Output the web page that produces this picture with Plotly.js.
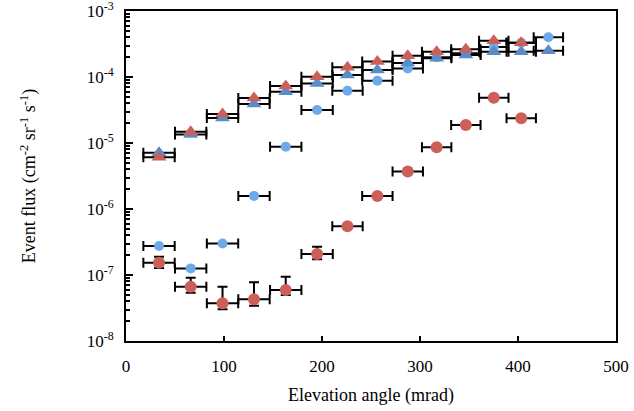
<!DOCTYPE html>
<html>
<head>
<meta charset="utf-8">
<script src="https://cdn.plot.ly/plotly-3.0.1.min.js"></script>
<style>html,body{margin:0;padding:0;background:#fff;}#chart{width:634px;height:411px;}</style>
</head>
<body>
<div id="chart"></div>
<script>
// Elevation angle bins (mrad)
const angles = [33.7, 66, 98.5, 130.6, 163, 195, 226, 256.5, 287.5, 317, 346.8, 375.3, 403.3, 431];
const angleErr = [16, 16, 16, 16, 16, 16, 15.5, 15.5, 15.5, 15, 15, 15, 15, 15];

// Blue triangles
const blueTri = [7.1e-6, 1.35e-5, 2.4e-5, 3.9e-5, 6.0e-5, 8.0e-5, 1.07e-4, 1.28e-4, 1.63e-4, 1.92e-4, 2.15e-4, 2.42e-4, 2.42e-4, 2.5e-4];
// Red triangles
const redTri = [6.1e-6, 1.48e-5, 2.75e-5, 4.8e-5, 7.3e-5, 1.01e-4, 1.40e-4, 1.71e-4, 2.1e-4, 2.42e-4, 2.63e-4, 3.55e-4, 3.3e-4];
// Blue circles
const blueCirc = [2.75e-7, 1.26e-7, 3.0e-7, 1.58e-6, 8.8e-6, 3.16e-5, 6.2e-5, 8.8e-5, 1.35e-4, 2.0e-4, 2.3e-4, 2.85e-4, 3.3e-4, 4.0e-4];
// Red circles
const redCirc = [1.53e-7, 6.65e-8, 3.72e-8, 4.28e-8, 5.93e-8, 2.08e-7, 5.5e-7, 1.58e-6, 3.7e-6, 8.6e-6, 1.87e-5, 4.86e-5, 2.37e-5];
const redCircUp = [1.89e-7, 9.1e-8, 6.65e-8, 7.75e-8, 9.4e-8, 2.69e-7, 5.5e-7, 1.58e-6, 3.7e-6, 8.6e-6, 1.87e-5, 4.86e-5, 2.37e-5];
const redCircLo = [1.28e-7, 5.4e-8, 3.02e-8, 3.43e-8, 4.98e-8, 1.73e-7, 5.5e-7, 1.58e-6, 3.7e-6, 8.6e-6, 1.87e-5, 4.86e-5, 2.37e-5];

const yTickVals = [1e-8, 1e-7, 1e-6, 1e-5, 1e-4, 1e-3];
const yTickText = ['10<sup>-8</sup>', '10<sup>-7</sup>', '10<sup>-6</sup>', '10<sup>-5</sup>', '10<sup>-4</sup>', '10<sup>-3</sup>'];
const yMinorVals = [];
yTickVals.slice(0, 5).forEach(d => { for (let k = 2; k <= 9; k++) yMinorVals.push(d * k); });
const xTickVals = [0, 100, 200, 300, 400, 500];

const ex = n => ({type: 'data', array: angleErr.slice(0, n), color: '#000', thickness: 2, width: 5});

const traces = [
  {x: angles, y: blueCirc, mode: 'markers', type: 'scatter',
   marker: {symbol: 'circle', size: 10, color: '#6DAAEB'}, error_x: ex(14)},
  {x: angles.slice(0, 13), y: redCirc, mode: 'markers', type: 'scatter',
   marker: {symbol: 'circle', size: 12, color: '#CD5F59'}, error_x: ex(13),
   error_y: {type: 'data', symmetric: false,
     array: redCircUp.map((u, i) => u - redCirc[i]),
     arrayminus: redCirc.map((c, i) => c - redCircLo[i]),
     color: '#000', thickness: 2, width: 5}},
  {x: angles, y: blueTri, mode: 'markers', type: 'scatter',
   marker: {symbol: 'triangle-up', size: 13, color: '#5A8DC8'}, error_x: ex(14)},
  {x: angles.slice(0, 13), y: redTri, mode: 'markers', type: 'scatter',
   marker: {symbol: 'triangle-up', size: 13, color: '#CD5F59'}, error_x: ex(13)}
];

const fam = 'Liberation Serif';
const TICK_SIZE = 17;

const layout = {
  width: 634, height: 411,
  margin: {l: 126, r: 18, t: 11, b: 70},
  paper_bgcolor: '#fff', plot_bgcolor: '#fff',
  showlegend: false,
  font: {family: fam, size: 17, color: '#000'},
  xaxis: {
    range: [0, 500], tickmode: 'array', tickvals: xTickVals, ticktext: xTickVals.map(String),
    ticks: 'inside', ticklen: 5, tickwidth: 1.5, tickcolor: '#000',
    showline: true, linecolor: '#000', linewidth: 2, mirror: true, showgrid: false, zeroline: false,
    ticklabelstandoff: 9, ticklabeloverflow: 'allow',
    tickfont: {family: fam, size: TICK_SIZE, color: '#000'},
    title: {text: 'Elevation angle (mrad)', font: {family: fam, size: 18, color: '#000'}, standoff: 13}
  },
  yaxis: {
    type: 'log', range: [-8, -3], tickmode: 'array', tickvals: yTickVals, ticktext: yTickText,
    ticks: 'inside', ticklen: 7, tickwidth: 1.5, tickcolor: '#000',
    minor: {tickmode: 'array', tickvals: yMinorVals, ticks: 'inside', ticklen: 4, tickwidth: 1.5, tickcolor: '#000', showgrid: false},
    showline: true, linecolor: '#000', linewidth: 2, mirror: true, showgrid: false, zeroline: false,
    ticklabelstandoff: 7, ticklabeloverflow: 'allow',
    tickfont: {family: fam, size: TICK_SIZE, color: '#000'},
    title: {text: 'Event flux (cm<sup>-2</sup> sr<sup>-1</sup> s<sup>-1</sup>)', font: {family: fam, size: 18, color: '#000'}, standoff: 46}
  }
};

// make sure tick labels carry the requested font (idempotent)
function ensureTickFont() {
  const fix = (sel, k) => {
    document.querySelectorAll(sel).forEach(el => {
      const cur = parseFloat(el.style.fontSize) || 12;
      const famOk = (el.style.fontFamily || '').indexOf('Liberation Serif') >= 0;
      if (cur !== TICK_SIZE || !famOk) {
        el.style.fontFamily = '"Liberation Serif", serif';
        el.style.fontSize = TICK_SIZE + 'px';
        if (cur !== TICK_SIZE) {
          const y = parseFloat(el.getAttribute('y')) || 0;
          el.setAttribute('y', y + (TICK_SIZE - cur) * k);
        }
      }
    });
  };
  fix('.xtick text', 0.7);
  fix('.ytick text', 0.35);
}

Plotly.newPlot('chart', traces, layout, {displayModeBar: false}).then(() => {
  ensureTickFont();
  setTimeout(ensureTickFont, 200);
});
</script>
</body>
</html>
